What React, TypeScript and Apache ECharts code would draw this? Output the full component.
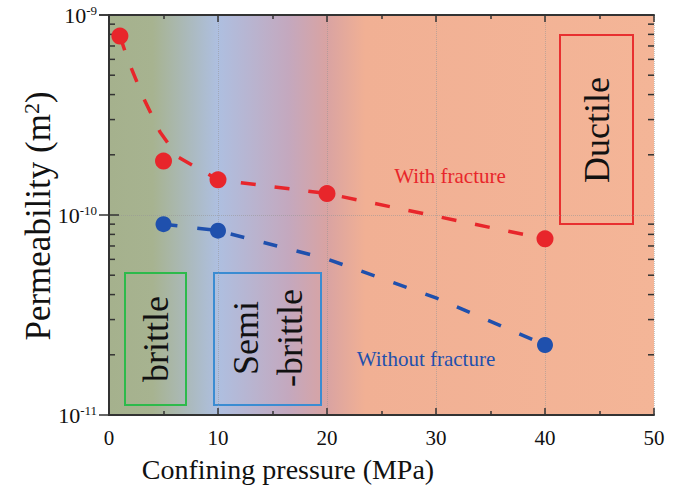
import React, { useEffect, useRef } from "react";
import * as echarts from "echarts";

// ---- data ----
const pressureWith = [1, 5, 10, 20, 40];
const permWith = [7.85e-10, 1.86e-10, 1.5e-10, 1.28e-10, 7.6e-11];
const pressureWithout = [5, 10, 40];
const permWithout = [9.0e-11, 8.35e-11, 2.24e-11];
// dashed trend curves (read along the dashes in the picture)
const trendWithX = [1, 1.74, 3.12, 4.68, 6.33, 10, 20, 40];
const trendWithY = [7.85e-10, 5.96e-10, 3.89e-10, 2.6e-10, 1.95e-10, 1.5e-10, 1.28e-10, 7.6e-11];
const trendWithoutX = [5, 10, 20, 30, 40];
const trendWithoutY = [9.0e-11, 8.35e-11, 6.03e-11, 3.85e-11, 2.24e-11];
const yMinorTicks = [
  2e-11, 3e-11, 4e-11, 5e-11, 6e-11, 7e-11, 8e-11, 9e-11,
  2e-10, 3e-10, 4e-10, 5e-10, 6e-10, 7e-10, 8e-10, 9e-10,
];
const xMin = 0;
const xMax = 50;
const yMin = 1e-11;
const yMax = 1e-9;

const SERIF = "'Liberation Serif', 'Times New Roman', serif";
const RED = "#e8262b";
const BLUE = "#1f50ad";
const AXIS = "#333";

export default function App() {
  const ref = useRef<HTMLDivElement>(null);
  useEffect(() => {
    document.body.style.margin = "0";
    const chart = echarts.init(ref.current!, null, { renderer: "svg" });
    const bg = new echarts.graphic.LinearGradient(0, 0, 1, 0, [
      { offset: 0, color: "#a5b18d" },
      { offset: 0.08, color: "#a7b390" },
      { offset: 0.2, color: "#aebfe0" },
      { offset: 0.33, color: "#c4a8be" },
      { offset: 0.4, color: "#d9a3a2" },
      { offset: 0.47, color: "#f1b094" },
      { offset: 1, color: "#f4b597" },
    ]);
    const yLabel = (v: number) => {
      const e = Math.round(Math.log10(v));
      return `{b|10}{s|${e}}`;
    };
    chart.setOption({
      animation: false,
      grid: {
        left: 109,
        right: 46,
        top: 15,
        bottom: 70,
        show: true,
        backgroundColor: bg,
        borderWidth: 0,
      },
      xAxis: [
        {
          type: "value",
          min: xMin,
          max: xMax,
          interval: 10,
          position: "bottom",
          axisLine: { show: true, lineStyle: { color: AXIS, width: 2 } },
          axisTick: { show: true, inside: true, length: 7, lineStyle: { color: AXIS, width: 1.5 } },
          minorTick: { show: true, splitNumber: 2, length: 4, lineStyle: { color: AXIS, width: 1.5 } },
          axisLabel: { color: "#111", fontFamily: SERIF, fontSize: 21, margin: 12 },
          splitLine: { show: true, lineStyle: { type: "dotted", color: "rgba(150,150,150,0.55)", width: 1 } },
        },
        {
          type: "value",
          min: xMin,
          max: xMax,
          interval: 10,
          position: "top",
          axisLine: { show: true, lineStyle: { color: AXIS, width: 2 } },
          axisTick: { show: true, inside: true, length: 7, lineStyle: { color: AXIS, width: 1.5 } },
          minorTick: { show: true, splitNumber: 2, length: 4, lineStyle: { color: AXIS, width: 1.5 } },
          axisLabel: { show: false },
          splitLine: { show: false },
        },
      ],
      yAxis: [
        {
          type: "log",
          logBase: 10,
          min: yMin,
          max: yMax,
          position: "left",
          axisLine: { show: true, lineStyle: { color: AXIS, width: 2 } },
          axisTick: { show: true, inside: true, length: 10, lineStyle: { color: AXIS, width: 1.5 } },
          axisLabel: {
            formatter: yLabel,
            margin: 12,
            rich: {
              b: { fontFamily: SERIF, fontSize: 22, color: "#111" },
              s: { fontFamily: SERIF, fontSize: 13, color: "#111", verticalAlign: "top", padding: [0, 0, 10, 0] },
            },
          },
          splitLine: { show: true, lineStyle: { type: "dotted", color: "rgba(150,150,150,0.55)", width: 1 } },
        },
        {
          type: "log",
          logBase: 10,
          min: yMin,
          max: yMax,
          position: "right",
          axisLine: { show: true, lineStyle: { color: AXIS, width: 2 } },
          axisTick: { show: true, inside: true, length: 10, lineStyle: { color: AXIS, width: 1.5 } },
          axisLabel: { show: false },
          splitLine: { show: false },
        },
      ],
      series: [
        {
          type: "custom",
          coordinateSystem: "cartesian2d",
          silent: true,
          clip: false,
          z: 3,
          data: yMinorTicks.map((v) => [xMin, v]),
          encode: { x: 0, y: 1 },
          renderItem: (params: any, api: any) => {
            const v = api.value(1);
            const pL = api.coord([xMin, v]);
            const pR = api.coord([xMax, v]);
            const st = { stroke: AXIS, lineWidth: 1.5 };
            return {
              type: "group",
              children: [
                { type: "line", shape: { x1: pL[0], y1: pL[1], x2: pL[0] + 6, y2: pL[1] }, style: st },
                { type: "line", shape: { x1: pR[0], y1: pR[1], x2: pR[0] - 6, y2: pR[1] }, style: st },
              ],
            };
          },
        },
        {
          name: "With fracture trend",
          type: "line",
          data: trendWithX.map((x, i) => [x, trendWithY[i]]),
          symbol: "none",
          lineStyle: { color: RED, width: 3.5, type: [15, 19] },
          z: 4,
        },
        {
          name: "Without fracture trend",
          type: "line",
          data: trendWithoutX.map((x, i) => [x, trendWithoutY[i]]),
          symbol: "none",
          lineStyle: { color: BLUE, width: 3.5, type: [14, 20] },
          z: 4,
        },
        {
          name: "With fracture",
          type: "scatter",
          data: pressureWith.map((x, i) => [x, permWith[i]]),
          symbol: "circle",
          symbolSize: 17,
          itemStyle: { color: RED, opacity: 1 },
          z: 5,
        },
        {
          name: "Without fracture",
          type: "scatter",
          data: pressureWithout.map((x, i) => [x, permWithout[i]]),
          symbol: "circle",
          symbolSize: 16,
          itemStyle: { color: BLUE, opacity: 1 },
          z: 5,
        },
      ],
      graphic: [
        {
          type: "text",
          x: 288,
          y: 469,
          style: {
            text: "Confining pressure (MPa)",
            fontFamily: SERIF,
            fontSize: 28,
            fill: "#111",
            align: "center",
            verticalAlign: "middle",
          },
        },
        {
          type: "text",
          x: 38,
          y: 216,
          rotation: Math.PI / 2,
          style: {
            text: "Permeability (m{sup|2})",
            fontFamily: SERIF,
            fontSize: 35,
            fill: "#111",
            align: "center",
            verticalAlign: "middle",
            rich: {
              sup: { fontFamily: SERIF, fontSize: 22, fill: "#111", verticalAlign: "top", padding: [0, 0, 14, 0] },
            },
          },
        },
        {
          type: "text",
          x: 450,
          y: 176,
          style: { text: "With fracture", fontFamily: SERIF, fontSize: 21, fill: RED, align: "center", verticalAlign: "middle" },
        },
        {
          type: "text",
          x: 426,
          y: 359,
          style: { text: "Without fracture", fontFamily: SERIF, fontSize: 21, fill: BLUE, align: "center", verticalAlign: "middle" },
        },
        {
          type: "rect",
          shape: { x: 125, y: 273, width: 61, height: 132 },
          style: { fill: "none", stroke: "#2dba4b", lineWidth: 2 },
        },
        {
          type: "text",
          x: 156,
          y: 339,
          rotation: Math.PI / 2,
          style: { text: "brittle", fontFamily: SERIF, fontSize: 36, fill: "#111", align: "center", verticalAlign: "middle" },
        },
        {
          type: "rect",
          shape: { x: 214, y: 273, width: 107, height: 132 },
          style: { fill: "none", stroke: "#3a8cd2", lineWidth: 2 },
        },
        {
          type: "text",
          x: 268,
          y: 338,
          rotation: Math.PI / 2,
          style: {
            text: "Semi\n-brittle",
            fontFamily: SERIF,
            fontSize: 36,
            lineHeight: 44,
            fill: "#111",
            align: "center",
            verticalAlign: "middle",
          },
        },
        {
          type: "rect",
          shape: { x: 560, y: 35, width: 73, height: 189 },
          style: { fill: "none", stroke: "#e83030", lineWidth: 2 },
        },
        {
          type: "text",
          x: 597,
          y: 130,
          rotation: Math.PI / 2,
          style: { text: "Ductile", fontFamily: SERIF, fontSize: 36, fill: "#111", align: "center", verticalAlign: "middle" },
        },
      ],
    });
    return () => chart.dispose();
  }, []);
  return <div ref={ref} style={{ position: "absolute", left: 0, top: 0, width: 700, height: 485 }} />;
}
